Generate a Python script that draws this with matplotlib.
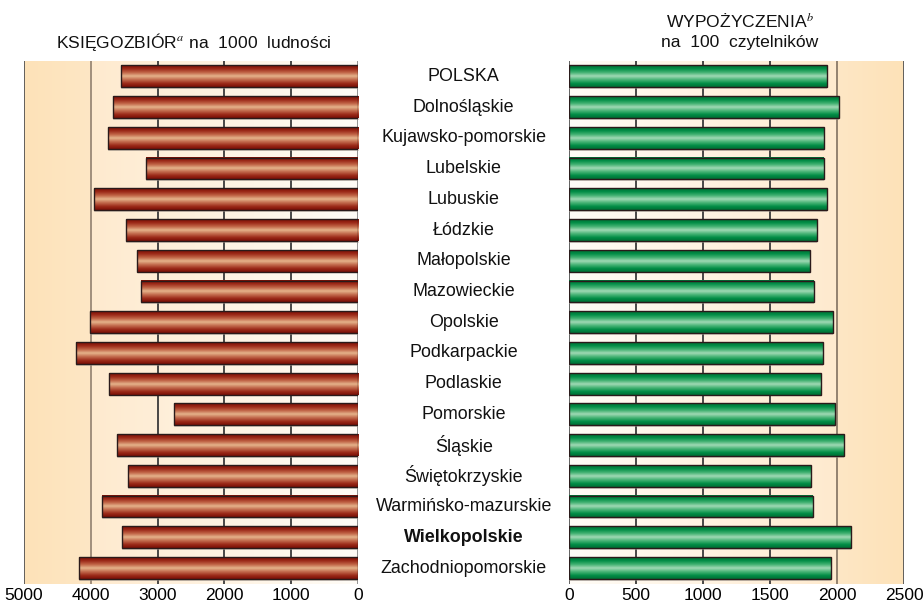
import numpy as np
import matplotlib
matplotlib.use("Agg")
import matplotlib.pyplot as plt
from matplotlib.colors import LinearSegmentedColormap
from matplotlib.transforms import blended_transform_factory

plt.rcParams['font.family'] = ['Liberation Sans', 'DejaVu Sans']
plt.rcParams['mathtext.fontset'] = 'stix'

regions = ["POLSKA", "Dolnośląskie", "Kujawsko-pomorskie", "Lubelskie", "Lubuskie",
           "Łódzkie", "Małopolskie", "Mazowieckie", "Opolskie", "Podkarpackie",
           "Podlaskie", "Pomorskie", "Śląskie", "Świętokrzyskie",
           "Warmińsko-mazurskie", "Wielkopolskie", "Zachodniopomorskie"]
ksiegozbior = [3545, 3675, 3750, 3170, 3945, 3475, 3305, 3245, 4005, 4215,
               3735, 2750, 3615, 3440, 3830, 3530, 4170]
wypozyczenia = [1925, 2012, 1900, 1900, 1922, 1848, 1796, 1825, 1970, 1893,
                1880, 1982, 2050, 1803, 1818, 2102, 1953]
left_ticks = [5000, 4000, 3000, 2000, 1000, 0]
right_ticks = [0, 500, 1000, 1500, 2000, 2500]
bold_region = "Wielkopolskie"

W, H = 923, 606
fig = plt.figure(figsize=(W / 100, H / 100), dpi=100)
fig.patch.set_facecolor('white')

axL = fig.add_axes([24 / W, 1 - 584 / H, 334 / W, 523 / H])
axR = fig.add_axes([569.3 / W, 1 - 584 / H, 334.7 / W, 523 / H])

n = len(regions)
ypos = np.arange(n)
bh = 0.71

peach = np.array([253, 226, 184]) / 255
mid = np.array([254, 234, 206]) / 255
white = np.array([255, 252, 247]) / 255


def bg_image(reverse):
    xs = np.linspace(0, 1, 400)
    cols = []
    for t in xs:
        if t < 0.2:
            c = peach + (mid - peach) * (t / 0.2) * 0.6
        else:
            c = mid + (white - mid) * ((t - 0.2) / 0.8)
        cols.append(c)
    arr = np.array(cols)[None, :, :]
    if reverse:
        arr = arr[:, ::-1, :]
    return arr


red_cmap = LinearSegmentedColormap.from_list(
    'red', [(0.0, '#7a1006'), (0.15, '#9a2616'), (0.33, '#bf6244'), (0.5, '#e6b48c'),
            (0.67, '#c26a4c'), (0.85, '#9a2818'), (1.0, '#7a1006')])
green_cmap = LinearSegmentedColormap.from_list(
    'green', [(0.0, '#006e35'), (0.15, '#008c45'), (0.33, '#40b070'), (0.5, '#a2dab6'),
              (0.67, '#48b476'), (0.85, '#008c45'), (1.0, '#006e35')])
grad = np.linspace(0, 1, 64)[:, None]
shadow_cmap = LinearSegmentedColormap.from_list('s', ['#b5ada3', '#b5ada3'])


def draw_panel(ax, values, ticks, tick_cols, cmap, reverse_bg, xlim):
    ax.imshow(bg_image(reverse_bg), extent=[0, 1, 0, 1], transform=ax.transAxes,
              aspect='auto', zorder=0)
    for t, c in zip(ticks, tick_cols):
        ax.axvline(t, color=c, lw=1.3, zorder=1)
    bars = ax.barh(ypos, values, height=bh, facecolor='none', edgecolor='#2a1a1a',
                   linewidth=1.0, zorder=4)
    for b in bars:
        x0, w = b.get_x(), b.get_width()
        y0, h = b.get_y(), b.get_height()
        ax.imshow(np.zeros((2, 2)), cmap=shadow_cmap,
                  extent=[x0, x0 + w, y0 + h + 0.06, y0 + 0.06], aspect='auto',
                  zorder=2, alpha=0.5)
        ax.imshow(grad, cmap=cmap, extent=[x0, x0 + w, y0 + h, y0], aspect='auto',
                  zorder=3, interpolation='bilinear')
    ax.set_xlim(*xlim)
    ax.set_ylim(n - 0.5 + 0.02, -0.5)
    ax.set_xticks(ticks)
    ax.set_xticklabels([str(t) for t in ticks], fontsize=12.5)
    ax.tick_params(axis='x', length=0, pad=3)
    ax.set_yticks([])
    for s in ax.spines.values():
        s.set_visible(False)


draw_panel(axL, ksiegozbior, left_ticks,
           ['#555555', '#9a8876', '#3a3a3a', '#3a3a3a', '#3a3a3a', '#8a8a8a'],
           red_cmap, False, (5000, 0))
draw_panel(axR, wypozyczenia, right_ticks,
           ['#555555', '#3a3a3a', '#3a3a3a', '#3a3a3a', '#8a7a68', '#555555'],
           green_cmap, True, (0, 2500))

trans = blended_transform_factory(fig.transFigure, axL.transData)
for i, r in enumerate(regions):
    fig.text(463.7 / W, i, r, transform=trans, ha='center', va='center',
             fontsize=12.9, fontweight='bold' if r == bold_region else 'normal',
             color='#111111')

fig.text(194 / W, 1 - 42 / H, r"KSIĘGOZBIÓR$^{\mathit{a}}$ na  1000  ludności",
         ha='center', va='center', fontsize=12.6, color='#111111')
fig.text(740 / W, 1 - 21 / H, r"WYPOŻYCZENIA$^{\mathit{b}}$",
         ha='center', va='center', fontsize=12.6, color='#111111')
fig.text(740 / W, 1 - 43 / H, "na  100  czytelników",
         ha='center', va='center', fontsize=12.6, color='#111111')

fig.savefig('out.png', dpi=100, facecolor='white')
